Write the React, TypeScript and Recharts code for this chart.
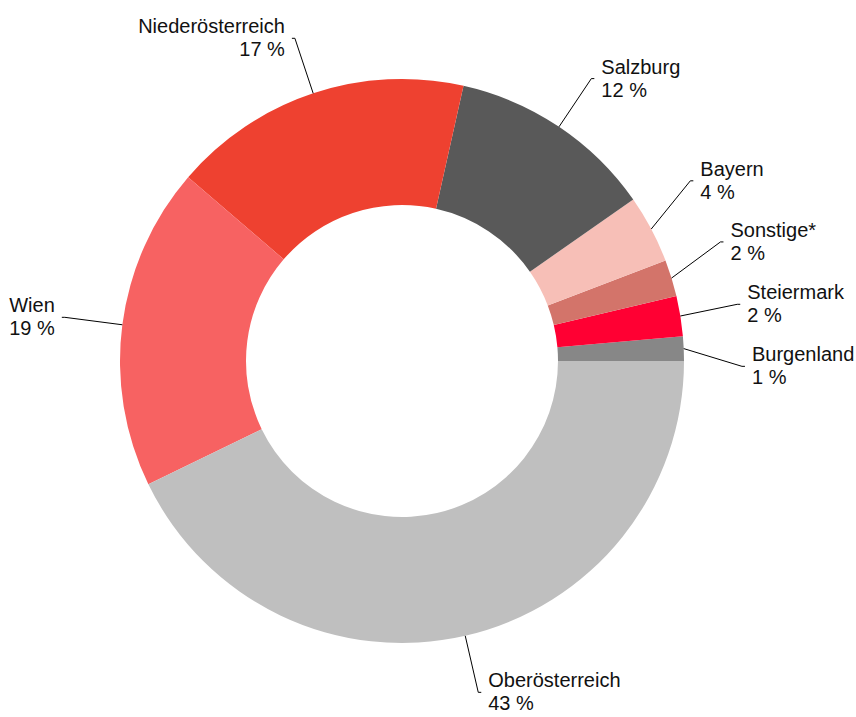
import { PieChart, Pie, Cell } from 'recharts';

const regions = ['Burgenland', 'Steiermark', 'Sonstige*', 'Bayern', 'Salzburg', 'Niederösterreich', 'Wien', 'Oberösterreich'];
const shares = [1.4, 2.3, 2.1, 3.9, 11.8, 17.2, 18.5, 42.8];
const shareLabels = ['1 %', '2 %', '2 %', '4 %', '12 %', '17 %', '19 %', '43 %'];
const colors = ['#878787', '#FF0033', '#D3746A', '#F7BFB7', '#595959', '#EE4130', '#F76262', '#BFBFBF'];

const data = regions.map((name, i) => ({ name, value: shares[i], pct: shareLabels[i] }));

// small slices on the right get their labels spread apart
const labelAngle: Record<string, number> = {
  'Bayern': 32,
  'Sonstige*': 20.5,
  'Steiermark': 9.6,
  'Burgenland': -0.9,
};

const RAD = Math.PI / 180;

function renderLabel(props: any) {
  const { cx, cy, midAngle, outerRadius, payload } = props;
  const a0 = midAngle;
  const a1 = labelAngle[payload.name] ?? midAngle;
  const sx = cx + outerRadius * Math.cos(-a0 * RAD);
  const sy = cy + outerRadius * Math.sin(-a0 * RAD);
  const ex = cx + 340 * Math.cos(-a1 * RAD);
  const ey = cy + 340 * Math.sin(-a1 * RAD);
  const dir = Math.cos(a1 * RAD) >= 0 ? 1 : -1;
  const tx = ex + dir * 10;
  return (
    <g>
      <polyline points={`${sx},${sy} ${ex},${ey} ${ex + dir * 3},${ey}`} fill="none" stroke="#000" strokeWidth={1} />
      <text x={tx} y={ey - 5} textAnchor={dir > 0 ? 'start' : 'end'} fontSize={20} fill="#111"
        fontFamily="Liberation Sans, Arial, sans-serif">
        <tspan x={tx}>{payload.name}</tspan>
        <tspan x={tx} dy={23}>{payload.pct}</tspan>
      </text>
    </g>
  );
}

export default function App() {
  return (
    <div style={{ position: 'absolute', left: 0, top: 0, width: 856, height: 717, background: '#fff' }}>
      <PieChart width={856} height={717} margin={{ top: 0, right: 0, bottom: 0, left: 0 }}>
        <Pie
          data={data}
          dataKey="value"
          nameKey="name"
          cx={402}
          cy={361}
          innerRadius={156}
          outerRadius={282}
          startAngle={0}
          endAngle={360}
          stroke="none"
          label={renderLabel}
          labelLine={false}
          isAnimationActive={false}
        >
          {data.map((d, i) => <Cell key={d.name} fill={colors[i]} />)}
        </Pie>
      </PieChart>
    </div>
  );
}
